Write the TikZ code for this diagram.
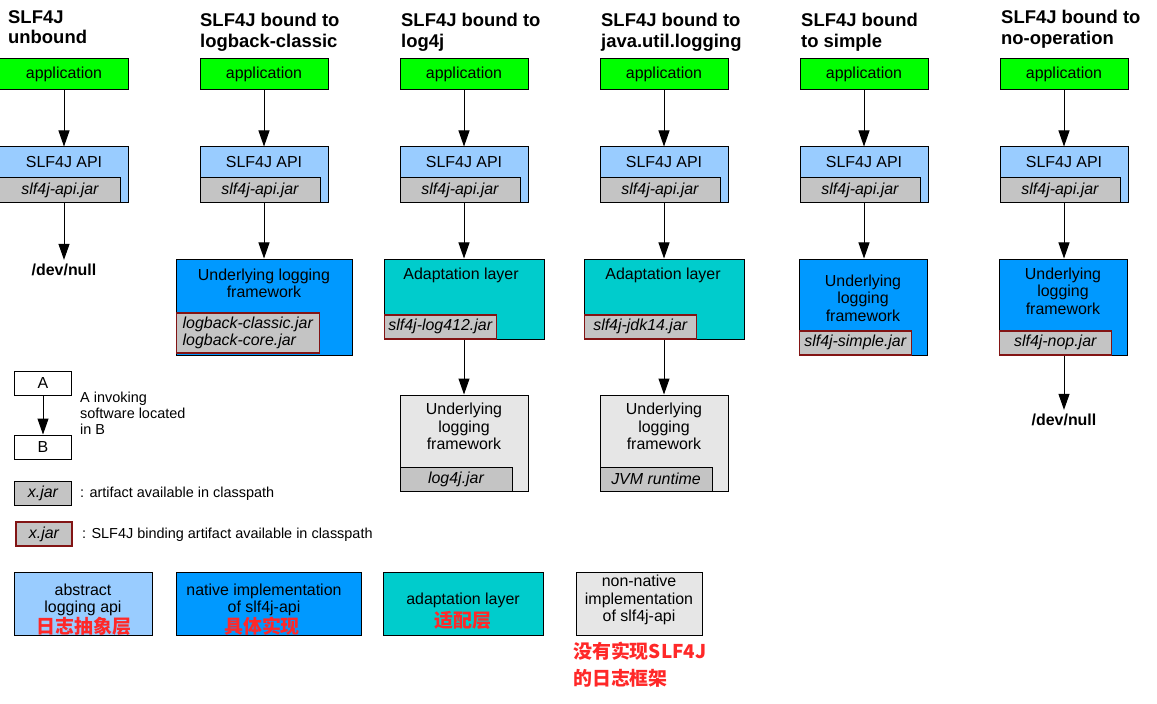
\documentclass[tikz,border=0pt]{standalone}
\usepackage{fontspec}
\setmainfont{Liberation Sans}
\newfontfamily\cjk{Noto Sans CJK SC}
\usetikzlibrary{arrows.meta,positioning}

\definecolor{appgreen}{RGB}{0,255,0}
\definecolor{apiblue}{RGB}{153,204,255}
\definecolor{jargray}{RGB}{196,196,196}
\definecolor{nativeblue}{RGB}{0,153,255}
\definecolor{adaptteal}{RGB}{0,204,204}
\definecolor{nonnativegray}{RGB}{230,230,230}
\definecolor{bindred}{RGB}{130,20,20}
\definecolor{notered}{RGB}{255,40,40}

\newcommand\slfbox{\fontsize{16}{17.5}\selectfont}
\newcommand\slftitle{\bfseries\fontsize{18.5}{21}\selectfont}
\newcommand\slfnote{\fontsize{14.5}{16}\selectfont}
\newcommand\slfcjk{\cjk\bfseries\fontsize{19}{27}\selectfont}

\tikzset{
  box/.style={draw, line width=1bp, inner sep=0pt},
  appbox/.style={box, fill=appgreen, minimum width=128bp, minimum height=31bp, font=\slfbox},
  apibox/.style={box, fill=apiblue, minimum width=128bp, minimum height=55bp},
  nativebox/.style={box, fill=nativeblue},
  adaptbox/.style={box, fill=adaptteal},
  nonnativebox/.style={box, fill=nonnativegray},
  jarbox/.style={box, fill=jargray, minimum height=24bp, font=\slfbox\itshape},
  bindjar/.style={jarbox, draw=bindred, line width=1.5bp},
  boxtext/.style={font=\slfbox, align=center, inner sep=0pt},
  devnull/.style={font=\slfbox\bfseries, inner sep=4bp},
  coltitle/.style={font=\slftitle, align=left, anchor=north west, inner sep=0pt},
  note/.style={font=\slfnote, align=left, inner sep=0pt},
  cjknote/.style={font=\slfcjk, text=notered, align=left, inner sep=0pt},
  call/.style={line width=1bp, -{Triangle[length=16bp,width=11bp]}}
}

\begin{document}
\begin{tikzpicture}[x=1bp, y=-1bp]
  \useasboundingbox (0,0) rectangle (1157,704);

  % column titles
  \node[coltitle] (title1) at (8,10) {SLF4J\\unbound};
  \node[coltitle] (title2) at (200,13) {SLF4J bound to\\logback-classic};
  \node[coltitle] (title3) at (401,13) {SLF4J bound to\\log4j};
  \node[coltitle] (title4) at (601,13) {SLF4J bound to\\java.util.logging};
  \node[coltitle] (title5) at (801,13) {SLF4J bound\\to simple};
  \node[coltitle] (title6) at (1001,10) {SLF4J bound to\\no-operation};

  % application and api in every column
  \foreach \i/\x in {1/64,2/264,3/464,4/664,5/864,6/1064} {
    \node[appbox] (app\i) at (\x,74.5) {application};
    \node[apibox] (api\i) at (\x,174.5) {};
    \node[jarbox, anchor=south west, minimum width=120bp] (apijar\i) at (api\i.south west) {slf4j-api.jar};
    \node[boxtext] (apitext\i) at (\x,162) {SLF4J API};
    \draw[call] (app\i) -- (api\i);
  }

  % unbound
  \node[devnull] (devnull1) at (64,270) {/dev/null};
  \draw[call] (api1) -- (devnull1.north);

  % logback-classic
  \node[nativebox, minimum width=176bp, minimum height=96bp] (native2) at (264,307) {};
  \node[boxtext] (nativetext2) at (264,283.5) {Underlying logging\\framework};
  \node[bindjar, anchor=south west, minimum width=143bp, minimum height=40bp, align=left]
    (bind2) at ([yshift=2bp]native2.south west) {logback-classic.jar\\logback-core.jar};
  \draw[call] (api2) -- (native2);

  % log4j
  \node[adaptbox, minimum width=160bp, minimum height=80bp] (adapt3) at (464,299) {};
  \node[boxtext] (adapttext3) at (461,275) {Adaptation layer};
  \node[bindjar, anchor=south west, minimum width=112bp] (bind3) at (adapt3.south west) {slf4j-log412.jar};
  \node[nonnativebox, minimum width=128bp, minimum height=96bp] (under3) at (464,443) {};
  \node[boxtext] (undertext3) at (464,426.5) {Underlying\\logging\\framework};
  \node[jarbox, anchor=south west, minimum width=112bp] (jar3) at (under3.south west) {log4j.jar};
  \draw[call] (api3) -- (adapt3);
  \draw[call] (adapt3) -- (under3);

  % java.util.logging
  \node[adaptbox, minimum width=160bp, minimum height=80bp] (adapt4) at (664,299) {};
  \node[boxtext] (adapttext4) at (663,275) {Adaptation layer};
  \node[bindjar, anchor=south west, minimum width=112bp] (bind4) at (adapt4.south west) {slf4j-jdk14.jar};
  \node[nonnativebox, minimum width=128bp, minimum height=96bp] (under4) at (664,443) {};
  \node[boxtext] (undertext4) at (664,426.5) {Underlying\\logging\\framework};
  \node[jarbox, anchor=south west, minimum width=112bp] (jar4) at (under4.south west) {JVM runtime};
  \draw[call] (api4) -- (adapt4);
  \draw[call] (adapt4) -- (under4);

  % simple
  \node[nativebox, minimum width=128bp, minimum height=96bp] (native5) at (863,307) {};
  \node[boxtext] (nativetext5) at (863,298) {Underlying\\logging\\framework};
  \node[bindjar, anchor=south west, minimum width=112bp] (bind5) at (native5.south west) {slf4j-simple.jar};
  \draw[call] (api5) -- (api5 |- native5.north);

  % no-operation
  \node[nativebox, minimum width=128bp, minimum height=96bp] (native6) at (1063,307) {};
  \node[boxtext] (nativetext6) at (1063,291) {Underlying\\logging\\framework};
  \node[bindjar, anchor=south west, minimum width=112bp] (bind6) at (native6.south west) {slf4j-nop.jar};
  \node[devnull] (devnull6) at (1064,420) {/dev/null};
  \draw[call] (api6) -- (api6 |- native6.north);
  \draw[call] (devnull6 |- native6.south) -- (devnull6.north);

  % legend
  \node[box, fill=white, minimum width=56bp, minimum height=24bp, font=\slfbox] (legA) at (43,383) {A};
  \node[box, fill=white, minimum width=56bp, minimum height=24bp, font=\slfbox] (legB) at (43,447) {B};
  \draw[call] (legA) -- (legB);
  \node[note, anchor=north west] (legcall) at (80,391.5) {A invoking\\software located\\in B};
  \node[jarbox, minimum width=56bp] (legjar) at (43,493) {x.jar};
  \node[note, anchor=west] (legjartext) at (80,494) {: artifact available in classpath};
  \node[bindjar, minimum width=56bp] (legbind) at (44,534) {x.jar};
  \node[note, anchor=west] (legbindtext) at (82,535) {: SLF4J binding artifact available in classpath};

  % kinds of boxes
  \node[apibox, minimum width=137bp, minimum height=63bp] (kindapi) at (83.5,603.5) {};
  \node[boxtext] (kindapitext) at (83,600) {abstract\\logging api};
  \node[cjknote] (kindapicn) at (84,626) {日志抽象层};
  \node[nativebox, minimum width=185bp, minimum height=63bp] (kindnative) at (268.5,603.5) {};
  \node[boxtext] (kindnativetext) at (264,600) {native implementation\\of slf4j-api};
  \node[cjknote] (kindnativecn) at (262,626) {具体实现};
  \node[adaptbox, minimum width=160bp, minimum height=63bp] (kindadapt) at (463,603.5) {};
  \node[boxtext] (kindadapttext) at (463,600) {adaptation layer};
  \node[cjknote] (kindadaptcn) at (463,620) {适配层};
  \node[nonnativebox, minimum width=126bp, minimum height=63bp] (kindnon) at (639,603.5) {};
  \node[boxtext] (kindnontext) at (639,600) {non-native\\implementation\\of slf4j-api};
  \node[cjknote, anchor=north west] (kindnoncn) at (573,642) {没有实现SLF4J\\的日志框架};
\end{tikzpicture}
\end{document}
